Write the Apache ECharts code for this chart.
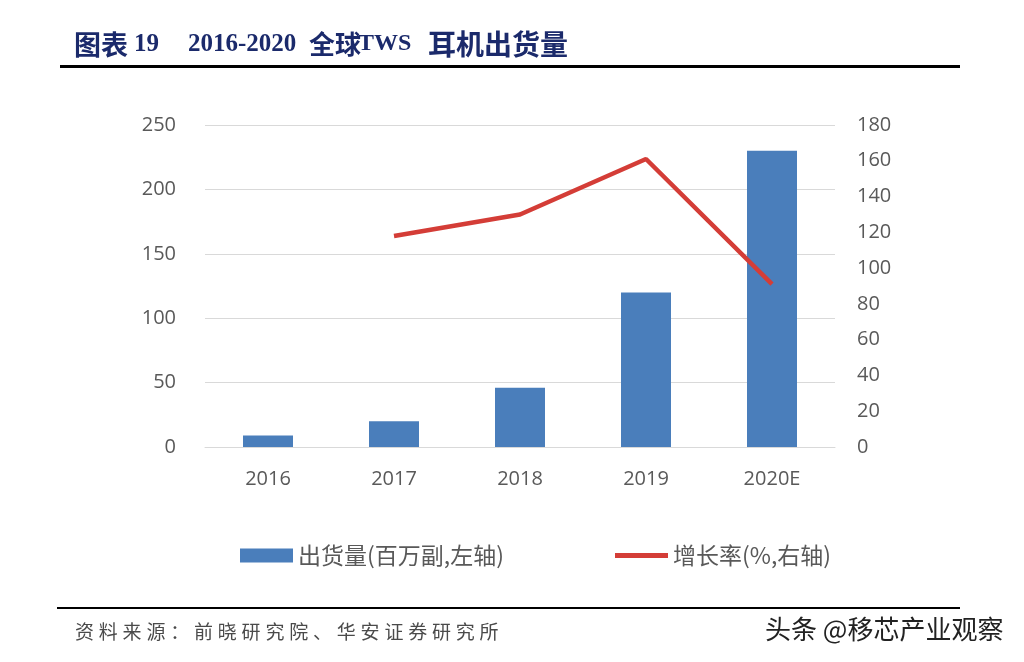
<!DOCTYPE html>
<html><head><meta charset="utf-8">
<script src="https://cdn.jsdelivr.net/npm/echarts@6/dist/echarts.min.js"></script>
<style>html,body{margin:0;padding:0;background:#fff;}#c{width:1024px;height:662px;}</style>
</head><body><div id="c"></div>
<script>
const categories = ['2016', '2017', '2018', '2019', '2020E'];
const shipments = [9, 20, 46, 120, 230];
const growth = [null, 118, 130, 161, 91];
const leftTicks = [0, 50, 100, 150, 200, 250];
const rightTicks = [0, 20, 40, 60, 80, 100, 120, 140, 160, 180];
const titleParts = ['图表', '19', '2016-2020', '全球', 'TWS', '耳机出货量'];
const sourceText = '资料来源：前晓研究院、华安证券研究所';
const watermark = '头条 @移芯产业观察';
const seriesNames = ['出货量(百万副,左轴)', '增长率(%,右轴)'];

const chart = echarts.init(document.getElementById('c'));
const lblFont = "'Open Sans', 'Noto Sans CJK SC', sans-serif";
const cjk = "'Noto Sans CJK SC', sans-serif";
const serifB = "'Liberation Serif', 'Noto Sans CJK SC', serif";
const titleColor = '#1B2A6B';

const graphics = [
  { type: 'text', left: 74, top: 31, style: { text: titleParts[0], fontSize: 27, fontWeight: 'bold', fill: titleColor, fontFamily: cjk } },
  { type: 'text', left: 134, top: 32, style: { text: titleParts[1], fontSize: 25, fontWeight: 'bold', fill: titleColor, fontFamily: serifB } },
  { type: 'text', left: 188, top: 32, style: { text: titleParts[2], fontSize: 25, fontWeight: 'bold', fill: titleColor, fontFamily: serifB } },
  { type: 'text', left: 309, top: 31, style: { text: titleParts[3], fontSize: 26, fontWeight: 'bold', fill: titleColor, fontFamily: cjk } },
  { type: 'text', left: 358, top: 32, style: { text: titleParts[4], fontSize: 24, fontWeight: 'bold', fill: titleColor, fontFamily: serifB } },
  { type: 'text', left: 428, top: 30, style: { text: titleParts[5], fontSize: 28, fontWeight: 'bold', fill: titleColor, fontFamily: cjk } },
  { type: 'rect', shape: { x: 60, y: 65, width: 900, height: 3 }, style: { fill: '#000' } },
  { type: 'rect', shape: { x: 57, y: 607, width: 903, height: 2 }, style: { fill: '#000' } },
  { type: 'text', left: 765, top: 616, style: { text: watermark, fontSize: 26, fill: '#222', fontFamily: cjk } }
];
Array.from(sourceText).forEach((ch, i) => {
  graphics.push({ type: 'text', left: 75 + i * 23.8, top: 622,
    style: { text: ch, fontSize: 19, fill: '#4a4a4a', fontFamily: cjk } });
});

chart.setOption({
  animation: false,
  grid: { left: 205, right: 189, top: 125, bottom: 215 },
  legend: [
    { left: 235, top: 539, itemWidth: 53, itemHeight: 14,
      textStyle: { fontSize: 23, color: '#595959', fontFamily: cjk },
      data: [{ name: seriesNames[0], icon: 'rect' }] },
    { left: 610, top: 539, itemWidth: 53, itemHeight: 5,
      textStyle: { fontSize: 23, color: '#595959', fontFamily: cjk },
      data: [{ name: seriesNames[1], icon: 'rect' }] }
  ],
  xAxis: {
    type: 'category', data: categories,
    axisLine: { lineStyle: { color: '#d9d9d9' } },
    axisTick: { show: false },
    axisLabel: { fontSize: 20, color: '#595959', margin: 22, fontFamily: lblFont }
  },
  yAxis: [
    { type: 'value', min: leftTicks[0], max: leftTicks[leftTicks.length - 1], interval: 50,
      axisLine: { show: false }, axisTick: { show: false },
      splitLine: { lineStyle: { color: '#d9d9d9', width: 1 } },
      axisLabel: { fontSize: 20, color: '#595959', margin: 29, fontFamily: lblFont } },
    { type: 'value', min: rightTicks[0], max: rightTicks[rightTicks.length - 1], interval: 20,
      axisLine: { show: false }, axisTick: { show: false }, splitLine: { show: false },
      axisLabel: { fontSize: 20, color: '#595959', margin: 22, fontFamily: lblFont } }
  ],
  series: [
    { name: seriesNames[0], type: 'bar', data: shipments, barWidth: 50,
      itemStyle: { color: '#4A7EBB' } },
    { name: seriesNames[1], type: 'line', yAxisIndex: 1, data: growth,
      symbol: 'none', lineStyle: { color: '#D43D37', width: 4.5 },
      itemStyle: { color: '#D43D37' } }
  ],
  graphic: graphics
});
</script></body></html>
